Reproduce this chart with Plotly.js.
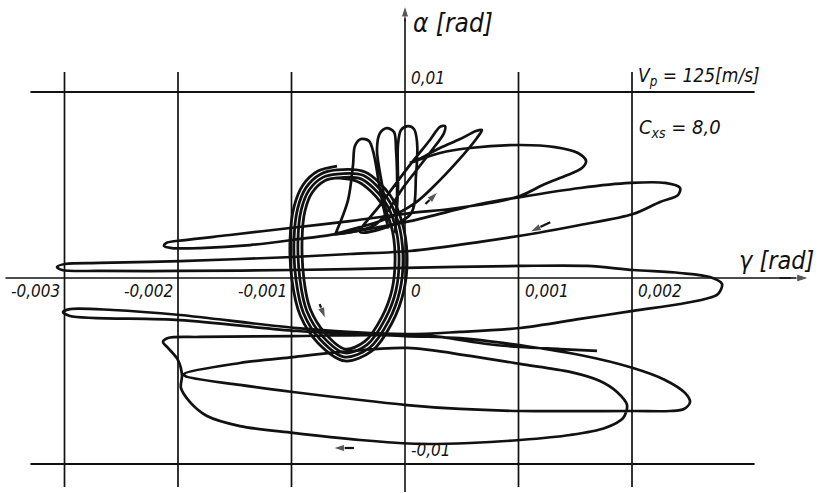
<!DOCTYPE html>
<html><head><meta charset="utf-8">
<script src="https://cdn.plot.ly/plotly-3.0.1.min.js"></script>
<style>html,body{margin:0;padding:0;background:#fff;} #chart{width:825px;height:493px;}</style>
</head><body><div id="chart"></div>
<script>
// ---- data (gamma = x [rad], alpha = y [rad]) ----
const gammaFlower = [-0.000617, -0.000502, -0.000458, -0.000441, -0.000388, -0.000317, -0.000273, -0.000220, -0.000150,
 -0.000194, -0.000247, -0.000220, -0.000159, -0.000097, -0.000079, -0.000070, -0.000088,
 -0.000062, -0.000062, -0.000035, 0.000026, 0.000079, 0.000106, 0.000097, 0.000044,
 -0.000396, -0.000220, 0.000044, 0.000220, 0.000308, 0.000352, 0.000344, 0.000238, 0, -0.000264,
 -0.000617, -0.000194, 0.000088, 0.000247, 0.000458, 0.000634, 0.000678, 0.000626, 0.000485, 0.000308, 0.000106, 0.000044];
const alphaFlower = [0.00231, 0.00419, 0.00608, 0.00710, 0.00747, 0.00737, 0.00661, 0.00473, 0.00269,
 0.00473, 0.00688, 0.00780, 0.00806, 0.00785, 0.00688, 0.00446, 0.00247,
 0.00473, 0.00715, 0.00796, 0.00817, 0.00801, 0.00731, 0.00554, 0.00339,
 0.00247, 0.00392, 0.00608, 0.00742, 0.00812, 0.00817, 0.00780, 0.00688, 0.00500, 0.00285,
 0.00237, 0.00312, 0.00403, 0.00489, 0.00624, 0.00753, 0.00796, 0.00790, 0.00747, 0.00699, 0.00634, 0.00618];

const gammaMain = [
 0.000044, 0.000308, 0.000573, 0.001013, 0.001322, 0.001524, 0.001595, 0.001559, 0.001410, 0.001233,
 0.001013, 0.000749, 0.000396, 0.000044, -0.000485, -0.001013, -0.001542, -0.001938, -0.002106, -0.002123,
 -0.002053, -0.001806, -0.001366, -0.000925, -0.000485, 0.000044, 0.000661, 0.001013, 0.001542, 0.001982,
 0.002291, 0.002423, 0.002405, 0.002247, 0.002009, 0.001542, 0.001163, 0.000661, 0.000044, -0.000485,
 -0.000987, -0.001982, -0.002687, -0.002996, -0.003066, -0.003022, -0.002687, -0.001982, -0.000987, 0,
 0.001013, 0.001604, 0.002009, 0.002423, 0.002687, 0.002793, 0.002758, 0.002643, 0.002423, 0.002009,
 0.001542, 0.001013, 0.000485, 0, -0.000952, -0.001982, -0.002573, -0.002952, -0.003013, -0.002952,
 -0.001982, -0.000952, 0, 0.000485, 0.000863, 0.001542, 0.002009, 0.002291, 0.002467, 0.002511,
 0.002458, 0.002335, 0.002009, 0.001013, 0.000485, 0.000018, -0.000987, -0.001454, -0.001938, -0.001947,
 -0.001454, -0.000987, -0.000573, 0.000018, 0.000573, 0.001013, 0.001454, 0.001718, 0.001868, 0.001956,
 0.001921, 0.001762, 0.001454, 0.001013, 0.000573, 0.000132, -0.000396, -0.000987, -0.001454, -0.001744,
 -0.001894, -0.001974, -0.001965, -0.002000, -0.002088, -0.002132, -0.002088, -0.001806, -0.000987, 0.000018,
 0.000308, 0.000722, 0.001013, 0.001366, 0.001692];
const alphaMain = [
 0.00618, 0.00672, 0.00699, 0.00715, 0.00704, 0.00672, 0.00629, 0.00591, 0.00548, 0.00505,
 0.00441, 0.00403, 0.00371, 0.00349, 0.00306, 0.00269, 0.00231, 0.00204, 0.00188, 0.00172,
 0.00161, 0.00161, 0.00177, 0.00210, 0.00247, 0.00306, 0.00398, 0.00435, 0.00484, 0.00511,
 0.00511, 0.00484, 0.00446, 0.00409, 0.00344, 0.00285, 0.00242, 0.00194, 0.00145, 0.00129,
 0.00113, 0.00091, 0.00081, 0.00075, 0.00059, 0.00043, 0.00038, 0.00038, 0.00043, 0.00054,
 0.00065, 0.00065, 0.00043, 0.00027, 0.00005, -0.00032, -0.00086, -0.00113, -0.00140, -0.00177,
 -0.00220, -0.00269, -0.00290, -0.00301, -0.00269, -0.00199, -0.00172, -0.00167, -0.00183, -0.00204,
 -0.00226, -0.00285, -0.00312, -0.00323, -0.00349, -0.00414, -0.00484, -0.00548, -0.00618, -0.00667,
 -0.00704, -0.00715, -0.00715, -0.00715, -0.00704, -0.00683, -0.00613, -0.00575, -0.00527, -0.00516,
 -0.00457, -0.00425, -0.00398, -0.00376, -0.00419, -0.00462, -0.00505, -0.00554, -0.00613, -0.00683,
 -0.00753, -0.00806, -0.00844, -0.00871, -0.00887, -0.00892, -0.00871, -0.00833, -0.00796, -0.00742,
 -0.00667, -0.00591, -0.00522, -0.00441, -0.00376, -0.00344, -0.00323, -0.00317, -0.00312, -0.00306,
 -0.00317, -0.00355, -0.00371, -0.00382, -0.00392];

// limit cycle, four nested turns
const gammaCycle = [
 -0.000599, -0.000767, -0.000899, -0.000978, -0.001013, -0.000996, -0.000925, -0.000767,
 -0.000529, -0.000291, -0.000115, -0.000009, 0.000018, -0.000026, -0.000132, -0.000352,
 -0.000599, -0.000745, -0.000872, -0.000946, -0.000978, -0.000960, -0.000895, -0.000745,
 -0.000529, -0.000312, -0.000144, -0.000044, -0.000018, -0.000058, -0.000159, -0.000370,
 -0.000599, -0.000724, -0.000846, -0.000915, -0.000943, -0.000925, -0.000865, -0.000724,
 -0.000529, -0.000333, -0.000174, -0.000079, -0.000053, -0.000090, -0.000185, -0.000388,
 -0.000599, -0.000703, -0.000819, -0.000883, -0.000907, -0.000890, -0.000835, -0.000703,
 -0.000529, -0.000354, -0.000204, -0.000115, -0.000088, -0.000122, -0.000211, -0.000405,
 -0.000599];
const alphaCycle = [
 0.00602, 0.00575, 0.00500, 0.00382, 0.00204, -0.00011, -0.00199, -0.00349,
 -0.00446, -0.00392, -0.00242, -0.00065, 0.00124, 0.00301, 0.00446, 0.00570,
 0.00581, 0.00558, 0.00486, 0.00373, 0.00204, -0.00011, -0.00188, -0.00332,
 -0.00425, -0.00375, -0.00231, -0.00065, 0.00124, 0.00295, 0.00432, 0.00552,
 0.00559, 0.00541, 0.00472, 0.00365, 0.00204, -0.00011, -0.00177, -0.00315,
 -0.00403, -0.00358, -0.00220, -0.00065, 0.00124, 0.00288, 0.00418, 0.00533,
 0.00538, 0.00524, 0.00458, 0.00356, 0.00204, -0.00011, -0.00167, -0.00298,
 -0.00382, -0.00341, -0.00210, -0.00065, 0.00124, 0.00282, 0.00404, 0.00515,
 0.00538];

// direction arrows drawn beside the curve: [tail gamma, head gamma], [tail alpha, head alpha]
const arrowGamma = [[0.000180, 0.000290], [0.00128, 0.001101], [-0.000752, -0.000702], [-0.000450, -0.000634]];
const arrowAlpha = [[0.00398, 0.00462], [0.0030, 0.00247], [-0.00140, -0.00218], [-0.00914, -0.00914]];

const gridGamma = [-0.003, -0.002, -0.001, 0.001, 0.002];
const gridAlpha = [0.01, -0.01];
const xTickVals = [-0.003, -0.002, -0.001, 0, 0.001, 0.002];
const xTickText = ['-0,003', '-0,002', '-0,001', '0', '0,001', '0,002'];
const yTickVals = [0.01, -0.01];
const yTickText = ['0,01', '-0,01'];
const xTitle = 'γ [rad]';
const yTitle = 'α [rad]';
const noteV = 'V<sub>p</sub> = 125[m/s]';
const noteC = 'C<sub>xs</sub> = 8,0';

// ---- drawing ----
const FONT = 'DejaVu Sans Condensed, Liberation Sans Narrow, Roboto, sans-serif';
const ink = '#111';
const lineStyle = {color: ink, width: 2.7, shape: 'spline', smoothing: 0.9};
const traces = [
  {x: gammaFlower, y: alphaFlower, mode: 'lines', line: lineStyle, hoverinfo: 'skip'},
  {x: gammaMain, y: alphaMain, mode: 'lines', line: lineStyle, hoverinfo: 'skip'},
  {x: gammaCycle, y: alphaCycle, mode: 'lines', line: Object.assign({}, lineStyle, {width: 2.8}), hoverinfo: 'skip'}
];
arrowGamma.forEach((g, i) => traces.push({x: g, y: arrowAlpha[i], mode: 'lines+markers', hoverinfo: 'skip',
  line: {color: ink, width: 2.2}, marker: {symbol: 'arrow', size: [0, 12], angleref: 'previous', color: ink}}));
// axis arrow heads
traces.push({x: [0.0033, 0.00356], y: [0, 0], mode: 'lines+markers', hoverinfo: 'skip',
  line: {color: ink, width: 1.6}, marker: {symbol: 'arrow', size: [0, 13], angleref: 'previous', color: ink}});
traces.push({x: [0, 0], y: [0.0138, 0.01465], mode: 'lines+markers', hoverinfo: 'skip',
  line: {color: ink, width: 1.6}, marker: {symbol: 'arrow', size: [0, 12], angleref: 'previous', color: ink}});

const shapes = [];
gridGamma.forEach(g => shapes.push({type: 'line', xref: 'x', yref: 'y', x0: g, x1: g, y0: -0.01124, y1: 0.01108,
  line: {color: ink, width: 1.7}, layer: 'below'}));
gridAlpha.forEach(a => shapes.push({type: 'line', xref: 'x', yref: 'y', x0: -0.0033, x1: 0.00308, y0: a, y1: a,
  line: {color: ink, width: 2}, layer: 'below'}));
shapes.push({type: 'line', xref: 'x', yref: 'y', x0: -0.00352, x1: 0.0034, y0: 0, y1: 0, line: {color: ink, width: 1.6}, layer: 'below'});
shapes.push({type: 'line', xref: 'x', yref: 'y', x0: 0, x1: 0, y0: -0.0115, y1: 0.0139, line: {color: ink, width: 1.6}, layer: 'below'});

const annotations = [];
const tickFont = {family: FONT, size: 17, color: ink};
xTickVals.forEach((v, i) => annotations.push({
  x: v, y: 0, xref: 'x', yref: 'y', text: '<i>' + xTickText[i] + '</i>', showarrow: false,
  xanchor: v < 0 ? 'right' : 'left', yanchor: 'top', xshift: v < 0 ? -3 : 4, yshift: -1, font: tickFont}));
yTickVals.forEach((v, i) => annotations.push({
  x: 0, y: v, xref: 'x', yref: 'y', text: '<i>' + yTickText[i] + '</i>', showarrow: false,
  xanchor: 'left', yanchor: 'bottom', xshift: 4, yshift: 2, font: tickFont}));
annotations.push({x: 0, y: 0.0137, xref: 'x', yref: 'y', text: '<i>' + yTitle + '</i>', showarrow: false,
  xanchor: 'left', yanchor: 'middle', xshift: 6, font: {family: FONT, size: 26, color: ink}});
annotations.push({x: 0.00362, y: 0, xref: 'x', yref: 'y', text: '<i>' + xTitle + '</i>', showarrow: false,
  xanchor: 'right', yanchor: 'bottom', yshift: 1, font: {family: FONT, size: 25, color: ink}});
annotations.push({x: 0.00203, y: 0.01, xref: 'x', yref: 'y', text: '<i>' + noteV + '</i>', showarrow: false,
  xanchor: 'left', yanchor: 'bottom', xshift: 1, yshift: 1, font: {family: FONT, size: 19, color: ink}});
annotations.push({x: 0.00204, y: 0.00806, xref: 'x', yref: 'y', text: '<i>' + noteC + '</i>', showarrow: false,
  xanchor: 'left', yanchor: 'middle', font: {family: FONT, size: 20, color: ink}});

const layout = {
  width: 825, height: 493, margin: {l: 0, r: 0, t: 0, b: 0, pad: 0},
  paper_bgcolor: '#fff', plot_bgcolor: '#fff', showlegend: false,
  xaxis: {range: [-0.0035683, 0.0037004], visible: false, showgrid: false, zeroline: false, fixedrange: true},
  yaxis: {range: [-0.0115591, 0.0149462], visible: false, showgrid: false, zeroline: false, fixedrange: true},
  shapes: shapes, annotations: annotations
};
Plotly.newPlot('chart', traces, layout, {displayModeBar: false, staticPlot: true});
</script></body></html>
